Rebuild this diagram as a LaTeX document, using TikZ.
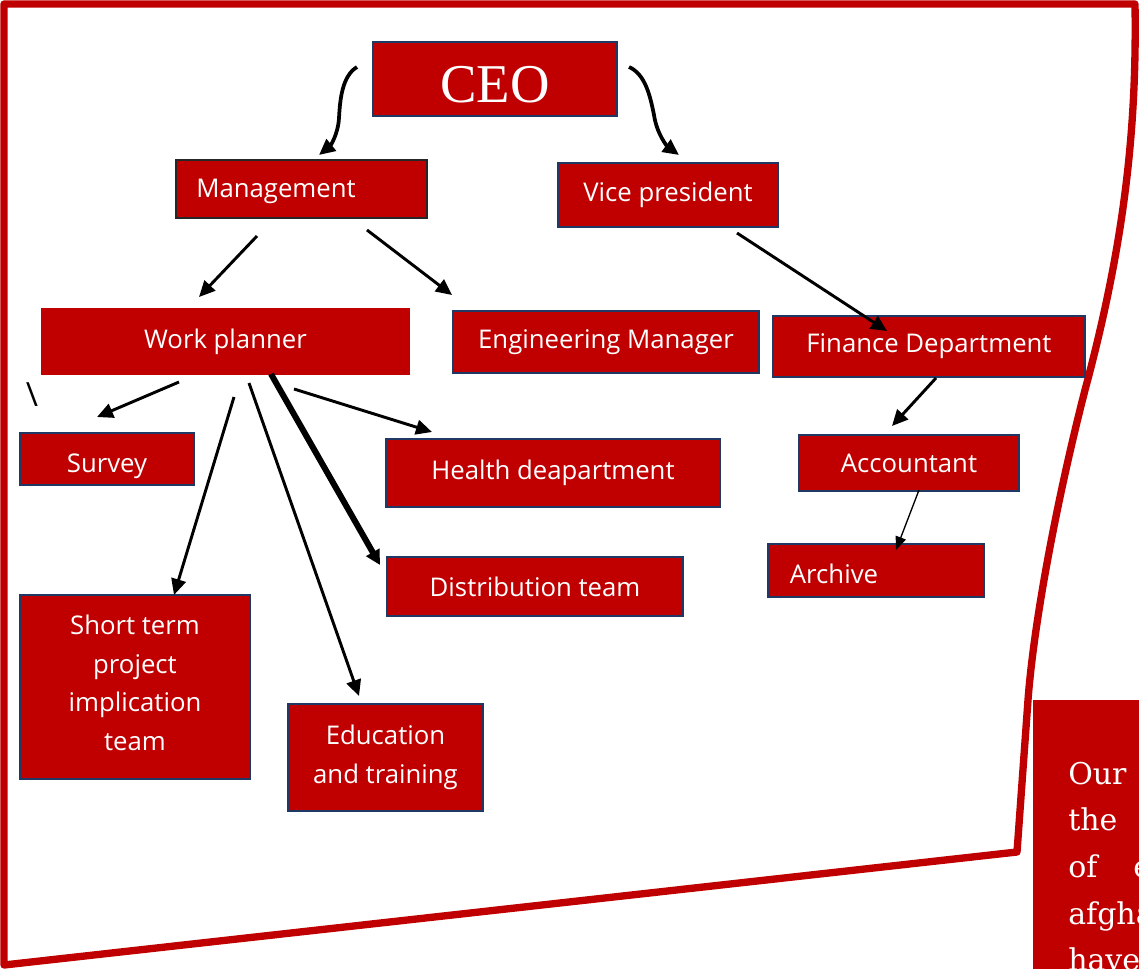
\documentclass[tikz,border=0pt]{standalone}
\usepackage{fontspec}
\setmainfont{Open Sans}
\newfontfamily\ceofont{Liberation Serif}
\newfontfamily\bodyserif{DejaVu Serif}
\usetikzlibrary{arrows.meta,calc}
\definecolor{boxred}{HTML}{C00000}
\definecolor{navyline}{HTML}{1F3864}
\newcommand\orgbox[7][]{%
  \node[orgnode,#1,minimum width={(#5-#3)*0.75pt},minimum height={(#6-#4)*0.75pt}]
    (#2) at ({(#3+#5)/2},{(#4+#6)/2}) {#7};}
\begin{document}
\begin{tikzpicture}[x=0.75pt,y=-0.75pt,
  orgnode/.style={rectangle,fill=boxred,draw=navyline,line width=1.5pt,inner sep=0pt,
    text=white,align=center,font=\fontsize{19.3}{29}\selectfont},
  lbl/.style={text=white,inner sep=0pt,align=center,font=\fontsize{19.3}{29}\selectfont},
  arr/.style={line width=2.2pt,-{Triangle[length=12pt,width=11pt]}},
  curvearr/.style={line width=2.8pt,-{Triangle[length=12pt,width=11pt]}},
  thickarr/.style={line width=4.5pt,-{Triangle[length=11pt,width=11pt]}},
  thinarr/.style={line width=1pt,-{Triangle[length=10pt,width=8pt]}},
  frame/.style={draw=boxred,line width=5.5pt,line join=round},
  serifline/.style={text=white,inner sep=0pt,anchor=base west,font=\bodyserif\fontsize{22.5}{30}\selectfont}]
\useasboundingbox (0,0) rectangle (1139,968);
\fill[white] (0,0) rectangle (1139,968);

% outer frame
\draw[frame] (4,4) -- (1135,4) .. controls (1137,130) and (1124,245) .. (1085,390)
  .. controls (1058,495) and (1034,620) .. (1028,700) -- (1017,852) -- (4,965) -- cycle;

% boxes
\orgbox{ceo}{373}{42}{617}{116}{}
\node[text=white,inner sep=0pt,font=\ceofont\fontsize{41}{48}\selectfont] (ceot) at (495,85) {CEO};
\orgbox[draw=black!85]{mgmt}{176}{160}{427}{218}{}
\node[lbl] (mgmtt) at (276,191) {Management};
\orgbox{vp}{558}{163}{778}{227}{Vice president}
\orgbox[draw=none]{wp}{41}{308}{410}{375}{Work planner}
\orgbox{eng}{453}{311}{759}{373}{Engineering Manager}
\orgbox{fin}{773}{316}{1085}{377}{Finance Department}
\orgbox{survey}{20}{433}{194}{485}{}
\node[lbl] (surveyt) at (107,466) {Survey};
\orgbox{health}{386}{439}{720}{507}{Health deapartment}
\orgbox{acc}{799}{435}{1019}{491}{Accountant}
\orgbox{dist}{387}{557}{683}{616}{Distribution team}
\orgbox{arch}{768}{544}{984}{597}{}
\node[lbl] (archt) at (834,574) {Archive};
\orgbox{short}{20}{595}{250}{779}{}
\node[lbl] (shortt) at (135,683) {Short term\\project\\implication\\team};
\orgbox{edu}{288}{704}{483}{811}{Education\\and training}

% stray backslash
\node[text=black,inner sep=0pt,font=\fontsize{25}{28}\selectfont] (bs) at (32,395) {\textbackslash};

% connectors
\draw[curvearr] ($(ceo.north west)+(-15,26)$) .. controls (342,76) and (340,100) .. (339,118)
  .. controls (338,135) and (330,146) .. ($(mgmt.north west)+(144,-4)$);
\draw[curvearr] ($(ceo.north east)+(11,26)$) .. controls (645,74) and (650,95) .. (654,115)
  .. controls (657,135) and (668,147) .. ($(vp.north west)+(122,-7)$);
\draw[arr] ($(mgmt.south west)+(82,17)$) -- ($(wp.north west)+(159,-10)$);
\draw[arr] ($(mgmt.south west)+(192,11)$) -- ($(eng.north west)+(0,-15)$);
\draw[arr] ($(vp.south west)+(180,5)$) -- ($(fin.north west)+(115,16)$);
\draw[arr] ($(wp.south west)+(139,6)$) -- ($(survey.north west)+(78,-15)$);
\draw[arr] ($(wp.south west)+(194,21)$) -- ($(short.north west)+(155,1)$);
\draw[arr] ($(wp.south west)+(209,7)$) -- ($(edu.north west)+(72,-7)$);
\draw[thickarr] ($(wp.south west)+(231,-2)$) -- ($(dist.north west)+(-6,9)$);
\draw[arr] ($(wp.south west)+(254,13)$) -- ($(health.north west)+(47,-6)$);
\draw[arr] ($(fin.south west)+(164,0)$) -- ($(acc.north west)+(94,-8)$);
\draw[thinarr] ($(acc.south west)+(121,-2)$) -- ($(arch.north west)+(129,7)$);

% bottom-right text panel
\begin{scope}
\clip (0,0) rectangle (1139,968);
\node[rectangle,fill=boxred,inner sep=0pt,anchor=north west,minimum width={110*0.75pt},minimum height={270*0.75pt}] (panel) at (1033,700) {};
\node[serifline] (l1) at (1068,784) {Our};
\node[serifline] (l2) at (1068,830) {the};
\node[serifline] (l3a) at (1068,877) {of};
\node[serifline] (l3b) at (1133,877) {e};
\node[serifline] (l4) at (1068,924) {afgha};
\node[serifline] (l5) at (1068,970) {have};
\end{scope}
\end{tikzpicture}
\end{document}
